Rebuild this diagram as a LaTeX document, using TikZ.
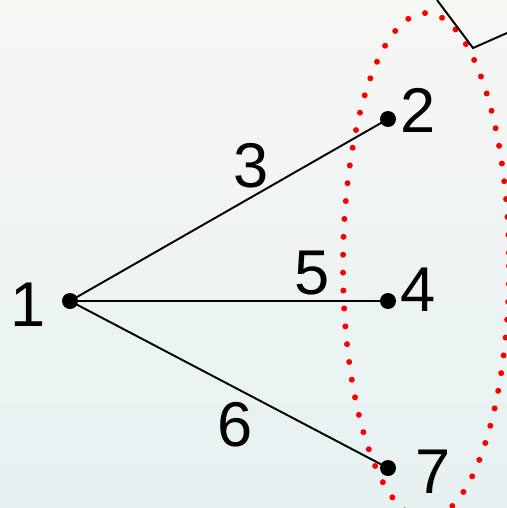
\documentclass[tikz,border=0pt]{standalone}
\usepackage{fontspec}
\setmainfont{Liberation Sans}
\usepackage{tikz}
\usetikzlibrary{positioning,calc}
\definecolor{bgtop}{RGB}{247,247,244}
\definecolor{bgbot}{RGB}{230,241,242}
\definecolor{dotred}{RGB}{250,0,0}

\begin{document}
\begin{tikzpicture}[x=0.02cm, y=-0.02cm,
    vertex/.style={circle, fill=black, inner sep=0pt, minimum size=0.32cm},
    num/.style={font=\fontsize{36}{40}\selectfont, inner sep=0pt},
    edge/.style={line width=1.1pt, black}]
  % --- background ---
  \fill[top color=bgtop, bottom color=bgbot] (0,0) rectangle (507,508);
  \useasboundingbox (0,0) rectangle (507,508);

  % --- vertices ---
  \node[vertex] (v1) at (70,301) {};
  \node[vertex] (v2) at (388,119) {};
  \node[vertex] (v4) at (388,301) {};
  \node[vertex] (v7) at (388,468) {};

  \node[num] (n1) at (28,305) {1};
  \node[num] (n2) at (418,110) {2};
  \node[num] (n4) at (418,290) {4};
  \node[num] (n7) at (433,472) {7};

  % --- edges ---
  \draw[edge] (v1.center) -- (v2.center) node[num, pos=0.57, above=0.16cm] (e3) {3};
  \draw[edge] (v1.center) -- (v4.center) node[num, pos=0.76, above=0.1cm] (e5) {5};
  \draw[edge] (v1.center) -- (v7.center) node[num, pos=0.52, below=0.28cm] (e6) {6};

  % --- dotted red ellipse ---
  \draw[dotred, line width=3.4pt, line cap=round, dash pattern=on 0pt off 10.2pt]
    (426,266) ellipse [x radius=83, y radius=253];

  % --- corner line ---
  \coordinate (c1) at (437,0);
  \coordinate (c2) at (473,48);
  \coordinate (c3) at (507,33);
  \draw[edge] (c1) -- (c2) -- (c3);
\end{tikzpicture}
\end{document}
